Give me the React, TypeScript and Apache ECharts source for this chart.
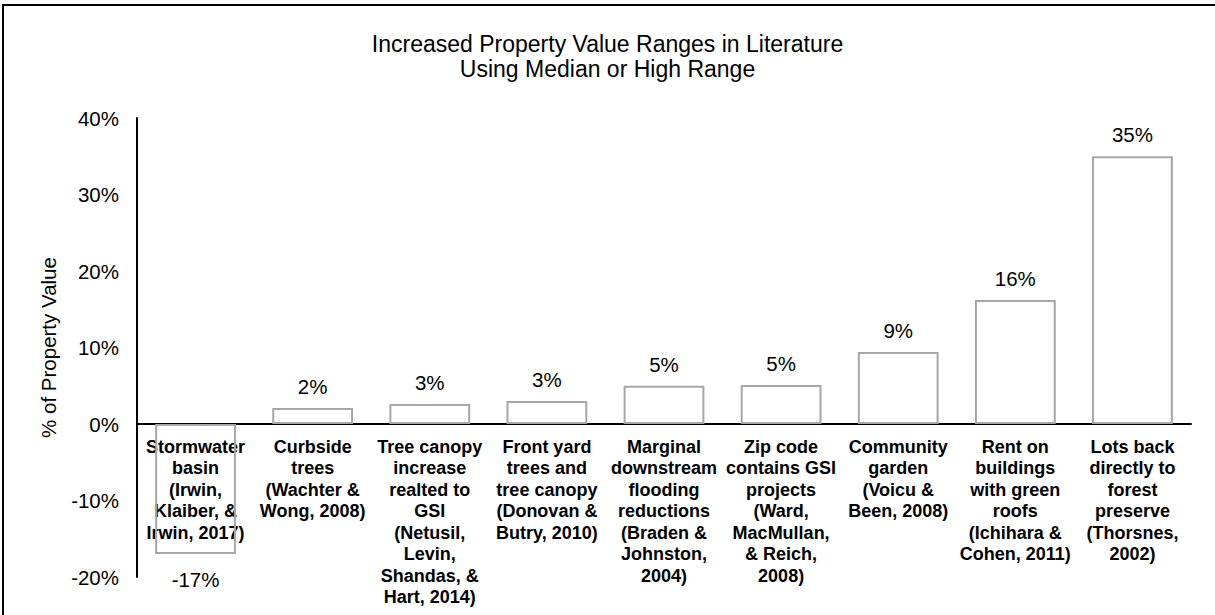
import React, { useEffect, useRef } from "react";
import * as echarts from "echarts";

const titleLines = ["Increased Property Value Ranges in Literature", "Using Median or High Range"];
const yAxisName = "% of Property Value";
const categories = [
  "Stormwater\nbasin\n(Irwin,\nKlaiber, &\nIrwin, 2017)",
  "Curbside\ntrees\n(Wachter &\nWong, 2008)",
  "Tree canopy\nincrease\nrealted to\nGSI\n(Netusil,\nLevin,\nShandas, &\nHart, 2014)",
  "Front yard\ntrees and\ntree canopy\n(Donovan &\nButry, 2010)",
  "Marginal\ndownstream\nflooding\nreductions\n(Braden &\nJohnston,\n2004)",
  "Zip code\ncontains GSI\nprojects\n(Ward,\nMacMullan,\n& Reich,\n2008)",
  "Community\ngarden\n(Voicu &\nBeen, 2008)",
  "Rent on\nbuildings\nwith green\nroofs\n(Ichihara &\nCohen, 2011)",
  "Lots back\ndirectly to\nforest\npreserve\n(Thorsnes,\n2002)",
];
const values = [-17.0, 2.1, 2.6, 3.0, 5.0, 5.1, 9.4, 16.2, 35.0];
const yMin = -20;
const yMax = 40;
const yInterval = 10;

const FONT = "'Liberation Sans', Arial, Helvetica, sans-serif";
const GRID_TOP = 118;
const GRID_HEIGHT = 459;

export default function App() {
  const ref = useRef<HTMLDivElement>(null);
  useEffect(() => {
    document.body.style.margin = "0";
    const chart = echarts.init(ref.current!, null, { renderer: "svg" });
    const zeroOffset = (GRID_HEIGHT * (0 - yMin)) / (yMax - yMin);
    chart.setOption({
      animation: false,
      backgroundColor: "#ffffff",
      textStyle: { fontFamily: FONT },
      title: {
        text: titleLines.join("\n"),
        left: "center",
        top: 31,
        padding: 0,
        textStyle: { fontFamily: FONT, fontSize: 23, fontWeight: "normal", color: "#000", lineHeight: 25 },
      },
      graphic: [
        {
          type: "rect",
          shape: { x: 3, y: 5, width: 1400, height: 800 },
          style: { fill: "none", stroke: "#000", lineWidth: 2 },
          silent: true,
        },
      ],
      grid: {
        left: 137,
        top: GRID_TOP,
        width: 1054,
        height: GRID_HEIGHT,
        containLabel: false,
        outerBoundsMode: "none",
      },
      xAxis: {
        type: "category",
        data: categories,
        position: "bottom",
        offset: -zeroOffset,
        axisLine: { onZero: false, lineStyle: { color: "#000", width: 2 } },
        axisTick: { show: false },
        axisLabel: {
          interval: 0,
          margin: 12,
          fontFamily: FONT,
          fontSize: 18,
          fontWeight: "bold",
          color: "#000",
          lineHeight: 21.5,
          align: "center",
        },
      },
      yAxis: {
        type: "value",
        min: yMin,
        max: yMax,
        interval: yInterval,
        name: yAxisName,
        nameLocation: "middle",
        nameGap: 78,
        nameTextStyle: { fontFamily: FONT, fontSize: 20.5, color: "#000" },
        axisLine: { show: true, onZero: false, lineStyle: { color: "#000", width: 2 } },
        axisTick: { show: false },
        splitLine: { show: false },
        axisLabel: { formatter: "{value}%", fontFamily: FONT, fontSize: 20.5, color: "#000", margin: 18 },
      },
      series: [
        {
          type: "bar",
          barCategoryGap: "31%",
          data: values.map((v) =>
            v < 0 ? { value: v, label: { position: "bottom", distance: 15 } } : v
          ),
          itemStyle: { color: "rgba(255,255,255,0)", borderColor: "#a6a6a6", borderWidth: 2 },
          label: {
            show: true,
            position: "top",
            distance: 11,
            fontFamily: FONT,
            fontSize: 20.5,
            color: "#000",
            formatter: (p: any) => Math.round(p.value) + "%",
          },
        },
      ],
    });
    return () => chart.dispose();
  }, []);
  return <div ref={ref} style={{ width: 1215, height: 615 }} />;
}
